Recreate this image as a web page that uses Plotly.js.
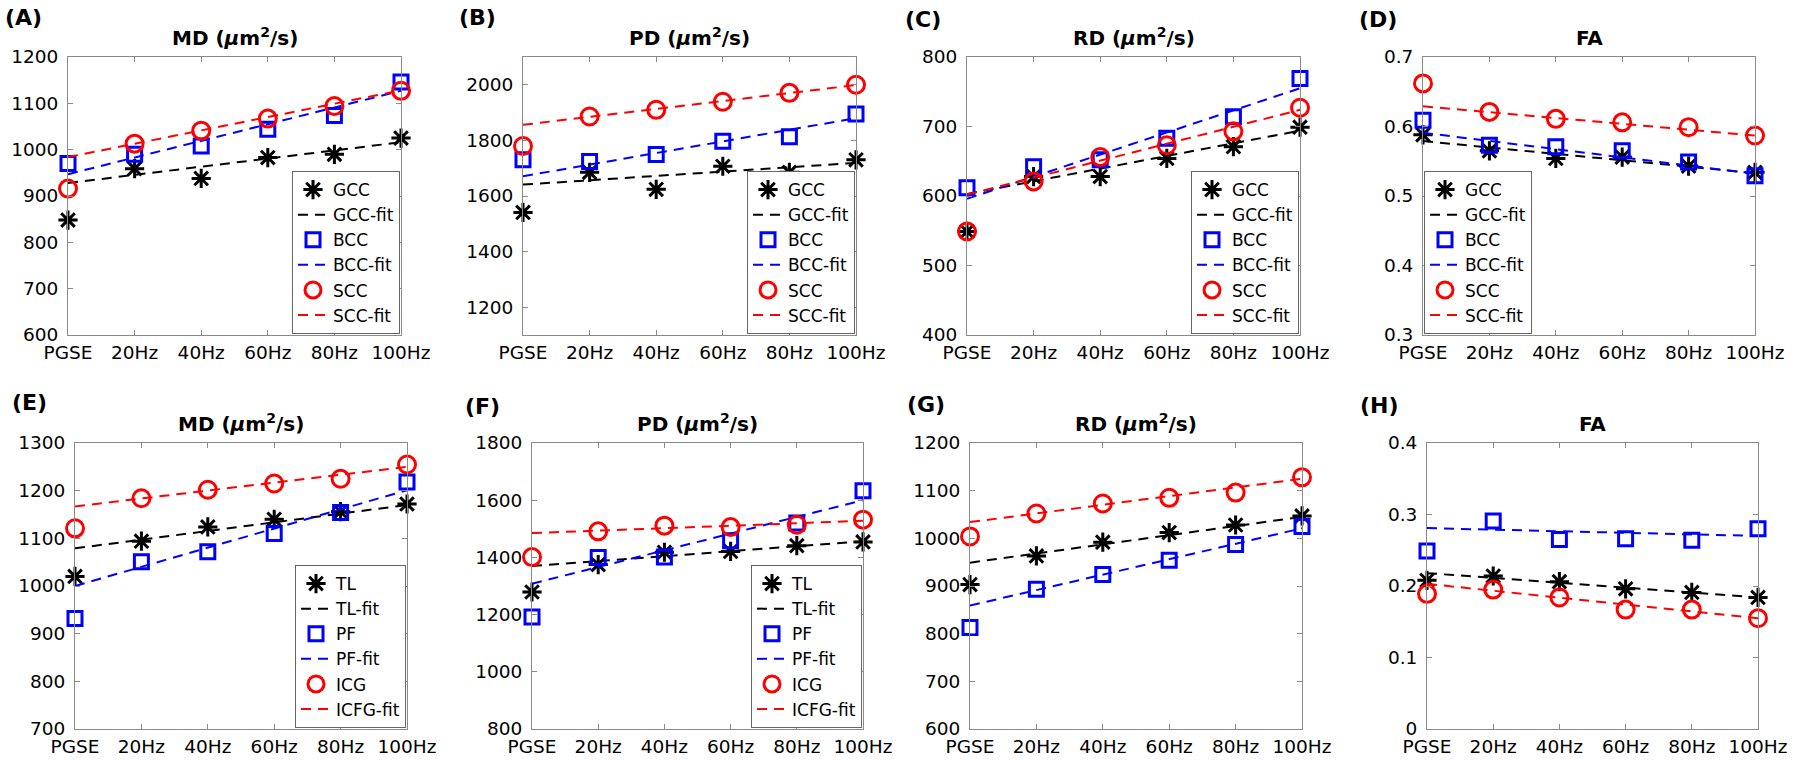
<!DOCTYPE html>
<html>
<head>
<meta charset="utf-8">
<script src="https://cdn.plot.ly/plotly-3.0.1.min.js"></script>
<style>html,body{margin:0;padding:0;background:#fff;}#chart{width:1800px;height:760px;}</style>
</head>
<body>
<div id="chart"></div>
<script>
// ---------- data ----------
const freqLabels = ['PGSE', '20Hz', '40Hz', '60Hz', '80Hz', '100Hz'];
const topNames = ['GCC', 'GCC-fit', 'BCC', 'BCC-fit', 'SCC', 'SCC-fit'];
const botNames = ['TL', 'TL-fit', 'PF', 'PF-fit', 'ICG', 'ICFG-fit'];
const panelLabels = ['(A)', '(B)', '(C)', '(D)', '(E)', '(F)', '(G)', '(H)'];
const panelTitles = ['MD', 'PD', 'RD', 'FA', 'MD', 'PD', 'RD', 'FA'];

const A_GCC = [848, 959, 938, 983, 990, 1025];
const A_GCC_fit = [928, 1016];
const A_BCC = [970, 990, 1008, 1044, 1074, 1146];
const A_BCC_fit = [947, 1127];
const A_SCC = [916, 1013, 1041, 1067, 1094, 1127];
const A_SCC_fit = [984, 1128];

const B_GCC = [1541, 1685, 1624, 1707, 1685, 1730];
const B_GCC_fit = [1641, 1719];
const B_BCC = [1730, 1724, 1749, 1797, 1813, 1895];
const B_BCC_fit = [1671, 1880];
const B_SCC = [1780, 1886, 1910, 1939, 1971, 2000];
const B_SCC_fit = [1856, 1999];

const C_GCC = [549, 628, 628, 654, 671, 699];
const C_GCC_fit = [603, 694];
const C_BCC = [612, 642, 652, 683, 714, 769];
const C_BCC_fit = [596, 755];
const C_SCC = [549, 621, 656, 673, 693, 727];
const C_SCC_fit = [602, 724];

const D_GCC = [0.588, 0.565, 0.554, 0.556, 0.543, 0.534];
const D_GCC_fit = [0.579, 0.533];
const D_BCC = [0.609, 0.573, 0.571, 0.565, 0.549, 0.529];
const D_BCC_fit = [0.591, 0.532];
const D_SCC = [0.662, 0.621, 0.611, 0.606, 0.599, 0.587];
const D_SCC_fit = [0.629, 0.587];

const E_TL = [1020, 1094, 1124, 1140, 1156, 1172];
const E_TL_fit = [1079, 1170];
const E_PF = [932, 1051, 1072, 1110, 1154, 1218];
const E_PF_fit = [1000, 1201];
const E_ICG = [1121, 1184, 1202, 1215, 1225, 1255];
const E_ICG_fit = [1167, 1250];

const F_TL = [1279, 1375, 1418, 1421, 1441, 1454];
const F_TL_fit = [1370, 1456];
const F_PF = [1192, 1400, 1401, 1458, 1520, 1633];
const F_PF_fit = [1308, 1600];
const F_ICG = [1401, 1491, 1511, 1506, 1514, 1532];
const F_ICG_fit = [1485, 1528];

const G_TL = [903, 963, 992, 1012, 1028, 1047];
const G_TL_fit = [949, 1045];
const G_PF = [813, 893, 924, 954, 987, 1025];
const G_PF_fit = [859, 1021];
const G_ICG = [1004, 1052, 1073, 1085, 1096, 1128];
const G_ICG_fit = [1034, 1125];

const H_TL = [0.208, 0.214, 0.206, 0.196, 0.191, 0.184];
const H_TL_fit = [0.218, 0.184];
const H_PF = [0.249, 0.291, 0.265, 0.266, 0.264, 0.280];
const H_PF_fit = [0.281, 0.270];
const H_ICG = [0.189, 0.195, 0.184, 0.167, 0.167, 0.155];
const H_ICG_fit = [0.203, 0.155];

const yRanges = [[600,1200],[1100,2100],[400,800],[0.3,0.7],[700,1300],[800,1800],[600,1200],[0,0.4]];
const yTick0 = [600, 1200, 400, 0.3, 700, 800, 600, 0];
const yDtick = [100, 200, 100, 0.1, 100, 200, 100, 0.1];

// ---------- layout geometry (pixels) ----------
const W = 1800, H = 760;
const boxes = [
  {x:[68,401],  y:[57,335]},
  {x:[523,856], y:[57,335]},
  {x:[967,1300],y:[57,335]},
  {x:[1423,1755],y:[57,335]},
  {x:[75,407],  y:[443,729]},
  {x:[532,863], y:[443,729]},
  {x:[970,1302],y:[443,729]},
  {x:[1427,1758],y:[443,729]}
];
const labelPos = [[3,17],[457,17],[903,20],[1357,20],[10,402],[463,406],[905,404],[1358,405]];
const legendSide = ['right','right','right','left','right','right',null,null];

const panelData = [
  [A_GCC, A_GCC_fit, A_BCC, A_BCC_fit, A_SCC, A_SCC_fit],
  [B_GCC, B_GCC_fit, B_BCC, B_BCC_fit, B_SCC, B_SCC_fit],
  [C_GCC, C_GCC_fit, C_BCC, C_BCC_fit, C_SCC, C_SCC_fit],
  [D_GCC, D_GCC_fit, D_BCC, D_BCC_fit, D_SCC, D_SCC_fit],
  [E_TL, E_TL_fit, E_PF, E_PF_fit, E_ICG, E_ICG_fit],
  [F_TL, F_TL_fit, F_PF, F_PF_fit, F_ICG, F_ICG_fit],
  [G_TL, G_TL_fit, G_PF, G_PF_fit, G_ICG, G_ICG_fit],
  [H_TL, H_TL_fit, H_PF, H_PF_fit, H_ICG, H_ICG_fit]
];

const colors = ['#000000', '#0000ff', '#ff0000'];
const symbols = ['asterisk-open', 'square-open', 'circle-open'];
const msize = [16, 14, 17];
const mline = [3, 3, 3];

const FONT = 'DejaVu Sans, Lato, sans-serif';
const traces = [];
const layout = {
  width: W, height: H,
  margin: {l:0, r:0, t:0, b:0},
  paper_bgcolor: '#ffffff', plot_bgcolor: '#ffffff',
  font: {family: FONT, size: 18, color: '#000'},
  showlegend: true,
  annotations: []
};

for (let p = 0; p < 8; p++) {
  const n = p + 1;
  const xa = n === 1 ? 'x' : 'x' + n;
  const ya = n === 1 ? 'y' : 'y' + n;
  const legKey = n === 1 ? 'legend' : 'legend' + n;
  const names = p < 4 ? topNames : botNames;
  const hasLeg = legendSide[p] !== null;
  const b = boxes[p];

  for (let s = 0; s < 3; s++) {
    const mk = {
      type: 'scatter', mode: 'markers', x: freqLabels, y: panelData[p][2*s],
      name: names[2*s], xaxis: xa, yaxis: ya, showlegend: hasLeg,
      cliponaxis: false,
      marker: {symbol: symbols[s], size: msize[s], color: colors[s], line: {color: colors[s], width: mline[s]}}
    };
    const ln = {
      type: 'scatter', mode: 'lines', x: [freqLabels[0], freqLabels[freqLabels.length-1]], y: panelData[p][2*s+1],
      name: names[2*s+1], xaxis: xa, yaxis: ya, showlegend: hasLeg,
      cliponaxis: false,
      line: {color: colors[s], width: 2, dash: '10px,7px'}
    };
    if (hasLeg) { mk.legend = legKey; ln.legend = legKey; }
    traces.push(mk, ln);
  }

  const axCommon = {
    showline: true, linecolor: '#8a8a8a', linewidth: 1, mirror: 'ticks',
    ticks: 'inside', ticklen: 5, tickcolor: '#8a8a8a', tickwidth: 1,
    showgrid: false, zeroline: false, fixedrange: true,
    tickfont: {family: FONT, size: 18.5, color: '#000'}
  };
  layout[n === 1 ? 'xaxis' : 'xaxis' + n] = Object.assign({}, axCommon, {
    domain: [b.x[0]/W, b.x[1]/W], anchor: ya, type: 'category',
    categoryorder: 'array', categoryarray: freqLabels, range: [0, freqLabels.length-1],
    ticklabelstandoff: 1
  });
  layout[n === 1 ? 'yaxis' : 'yaxis' + n] = Object.assign({}, axCommon, {
    domain: [1 - b.y[1]/H, 1 - b.y[0]/H], anchor: xa,
    range: yRanges[p], tick0: yTick0[p], dtick: yDtick[p], ticklabelstandoff: 5
  });

  if (hasLeg) {
    const right = legendSide[p] === 'right';
    layout[legKey] = {
      x: right ? (b.x[1]-1)/W : (b.x[0]+1)/W, xanchor: right ? 'right' : 'left',
      y: 1 - (b.y[1]-1)/H, yanchor: 'bottom', xref: 'paper', yref: 'paper',
      bgcolor: '#ffffff', bordercolor: '#666', borderwidth: 1,
      font: {family: FONT, size: 17, color: '#000'}, tracegroupgap: 0, itemwidth: 30,
      traceorder: 'normal'
    };
  }

  // panel label
  layout.annotations.push({
    xref: 'paper', yref: 'paper', x: labelPos[p][0]/W, y: 1 - labelPos[p][1]/H,
    xanchor: 'left', yanchor: 'middle', showarrow: false,
    text: '<b>' + panelLabels[p] + '</b>', font: {family: FONT, size: 22, color: '#000'}
  });
  // panel title
  const unit = panelTitles[p] === 'FA' ? '' : ' (<i>μ</i>m<sup>2</sup>/s)';
  layout.annotations.push({
    xref: 'paper', yref: 'paper', x: (b.x[0]+b.x[1])/2/W, y: 1 - (b.y[0]-5)/H,
    xanchor: 'center', yanchor: 'bottom', showarrow: false,
    text: '<b>' + panelTitles[p] + unit + '</b>', font: {family: FONT, size: 20, color: '#000'}
  });
}

Plotly.newPlot('chart', traces, layout, {staticPlot: true, displayModeBar: false});
</script>
</body>
</html>
